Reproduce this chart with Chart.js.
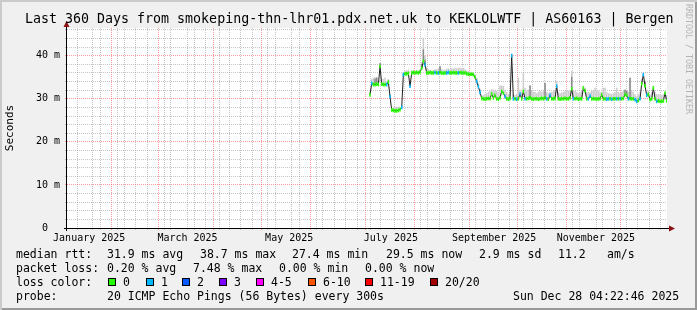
<!DOCTYPE html>
<html>
<head>
<meta charset="utf-8">
<script src="https://cdn.jsdelivr.net/npm/chart.js@4/dist/chart.umd.min.js"></script>
<style>
  html, body { margin: 0; padding: 0; }
  body { width: 697px; height: 310px; overflow: hidden; }
  #graph {
    position: relative; width: 697px; height: 310px; background: #f0f0f0;
    box-shadow: inset 2px 2px 0 #cbcbcb, inset -2px -2px 0 #999999;
    font-family: "DejaVu Sans Mono", monospace; color: #000;
  }
  #graph canvas { position: absolute; left: 0; top: 0; }
  .t { position: absolute; white-space: pre; font-size: 11.5px; line-height: 14px; }
  #title { position: absolute; left: 25px; top: 11px; font-size: 13.3px; line-height: 16px; white-space: pre; }
  #stamp { position: absolute; left: 684px; top: 4px; font-size: 8.3px; color: #b4b4b4; writing-mode: vertical-rl; white-space: pre; }
  .box { position: absolute; width: 6px; height: 6px; border: 1px solid #000; top: 278px; }
</style>
</head>
<body>
<div id="graph">
  <canvas id="chart" width="697" height="310"></canvas>
  <div id="title">Last 360 Days from smokeping-thn-lhr01.pdx.net.uk to KEKLOLWTF | AS60163 | Bergen</div>
  <div id="stamp">RRDTOOL / TOBI OETIKER</div>
  <div id="legend"></div>
</div>
<script>
// days counted from 1 Jan 2025 00:00
const startDay = 1.18;
const endDay = 361.18;
const firstDay = 183;

// median rtt per day, ms
const median = [
  30.9, 33.6, 33.3, 33.3, 33.4, 33.3, 37.5, 33.4, 33.3, 33.3, 33.3, 33.9,
  30.5, 27.4, 27.3, 27.2, 27.2, 27.3, 27.5, 28.0,
  35.6, 35.8, 35.8, 35.9, 32.9, 36.0, 36.1, 36.0, 36.1, 36.0, 36.2, 37.1, 38.7, 37.9, 36.0,
  36.0, 36.1, 36.0, 36.0, 36.1, 36.0, 36.0, 36.1, 36.0, 35.9, 36.0, 36.0, 36.1, 36.0, 36.0, 36.1, 36.0, 36.0, 36.0, 36.1, 36.0, 36.0, 36.0,
  35.8, 35.7, 35.7, 35.7, 35.6, 35.0, 34.0, 32.8, 31.5, 30.1,
  30.0, 29.9, 30.0, 30.1, 30.0, 31.1, 30.2, 30.8, 30.0, 29.9, 30.2, 31.7, 31.3, 30.5, 30.0, 29.9, 30.1,
  40.0, 30.0, 30.0, 29.9, 30.0, 31.1, 30.0, 31.7, 30.0, 30.0, 30.1, 30.2, 30.0, 29.9, 30.0, 30.0, 29.9, 30.0, 30.1, 30.0,
  30.2, 30.0, 29.9, 30.8, 30.0, 30.0, 30.1, 32.9, 30.0, 29.9, 30.0, 30.0, 30.1, 30.0, 30.0, 30.2, 32.3, 30.0, 30.0, 30.1, 29.9, 30.0, 30.0,
  32.5, 31.8, 30.0, 30.0, 30.6, 30.0, 30.0, 30.0, 29.9, 30.0, 30.0, 30.9, 30.0, 30.0, 29.9, 30.0, 30.0, 29.9, 30.0, 30.0, 30.0, 30.0, 30.0, 30.0, 30.1,
  31.0, 30.8, 30.0, 30.0, 30.0, 30.0, 29.8, 29.4, 29.6, 30.0, 33.5, 35.6, 33.0, 30.8, 31.0, 29.8, 30.0, 32.5, 30.0, 29.4, 29.5, 29.4, 29.4, 29.5, 31.3, 29.5
];

// loss bucket per day (index into lossColors)
const loss = [
  0, 1, 0, 0, 0, 0, 0, 0, 0, 0, 1, 0,
  1, 0, 0, 0, 0, 0, 0, 1,
  1, 0, 0, 0, 1, 0, 0, 0, 0, 0, 0, 0, 0, 1, 0,
  0, 0, 0, 0, 1, 0, 1, 0, 0, 0, 0, 1, 1, 0, 0, 0, 0, 0, 1, 0, 0, 0, 0,
  0, 0, 0, 0, 0, 0, 1, 1, 1, 0,
  0, 0, 0, 0, 0, 0, 0, 0, 0, 0, 0, 0, 0, 1, 0, 0, 0,
  1, 1, 0, 1, 0, 1, 0, 0, 1, 0, 0, 0, 0, 0, 0, 0, 0, 0, 0, 0,
  0, 1, 0, 1, 0, 0, 0, 1, 0, 0, 0, 0, 0, 0, 0, 0, 0, 1, 0, 0, 0, 0, 0,
  0, 0, 0, 1, 1, 0, 0, 0, 0, 0, 0, 0, 0, 0, 1, 1, 0, 1, 0, 0, 1, 0, 1, 0, 0,
  0, 0, 1, 0, 0, 0, 1, 1, 0, 1, 0, 1, 0, 1, 0, 0, 0, 0, 0, 1, 0, 0, 0, 0, 0, 0
];

// top of the light smoke per day, ms
const smokeTop = [
  31.5, 34.5, 34.8, 35.0, 35.0, 34.2, 38.0, 34.5, 34.5, 34.8, 34.0, 34.5,
  31.0, 27.8, 27.8, 28.0, 28.0, 28.0, 28.0, 28.4,
  36.0, 36.5, 36.5, 36.6, 34.0, 36.5, 36.6, 36.5, 36.6, 36.5, 36.8, 38.5, 44.1, 40.0, 37.2,
  36.8, 36.6, 36.5, 36.6, 36.8, 36.8, 37.0, 37.6, 36.8, 36.6, 36.7, 36.9, 37.0, 36.8, 37.0, 36.9, 37.1, 37.0, 37.1, 37.2, 37.0, 37.1, 36.8,
  36.5, 36.4, 36.2, 36.2, 36.0, 35.6, 34.8, 33.5, 32.2, 30.6,
  30.8, 31.0, 31.2, 31.5, 31.7, 32.2, 32.0, 32.0, 31.8, 31.5, 33.0, 33.0, 32.9, 32.0, 31.5, 31.0, 31.5,
  40.5, 31.0, 30.8, 31.0, 34.8, 32.0, 31.5, 36.0, 32.5, 31.8, 32.0, 33.0, 31.8, 31.5, 31.5, 31.2, 31.5, 31.8, 31.5, 32.0,
  33.6, 31.5, 31.2, 31.5, 31.5, 31.7, 32.0, 34.0, 31.5, 31.2, 31.4, 31.5, 31.8, 32.0, 31.8, 32.0, 36.4, 32.0, 31.8, 31.5, 31.2, 31.5, 31.8,
  33.0, 32.5, 31.5, 31.5, 31.5, 31.8, 31.8, 32.5, 32.0, 31.8, 31.5, 31.5, 32.5, 32.5, 31.5, 31.2, 31.2, 31.0, 31.2, 31.5, 32.5, 31.5, 31.2, 31.5, 31.8,
  32.1, 32.0, 31.5, 34.8, 32.0, 31.5, 31.0, 30.5, 31.0, 31.5, 34.5, 36.0, 34.0, 31.5, 31.8, 31.0, 31.5, 33.0, 31.5, 31.0, 31.0, 31.0, 30.8, 31.0, 31.6, 30.8
];

// darker smoke where pings bunched up
const darkDays = [186, 187, 189, 214, 215, 216, 225, 279, 288, 304, 336, 337, 339, 346, 348];
const darkTop = [34.6, 34.8, 38.2, 38.0, 41.4, 39.0, 37.5, 33.0, 33.6, 35.0, 32.0, 31.8, 34.8, 34.0, 33.8];

const lossColors = ["#26ff00", "#00b8ff", "#0059ff", "#7e00ff", "#ff00ff", "#ff5500", "#ff0000", "#a10000"];
const lossLabels = ["0", "1", "2", "3", "4-5", "6-10", "11-19", "20/20"];

const monthStarts = [0, 31, 59, 90, 120, 151, 181, 212, 243, 273, 304, 334];
const monthLabels = ["January 2025", "March 2025", "May 2025", "July 2025", "September 2025", "November 2025"];
const monthLabelDays = [14.5, 73.5, 134.5, 195.5, 257.5, 318.5];

const yMax = 46.43;
const yTickValues = [0, 10, 20, 30, 40];
const yTickLabels = ["0  ", "10 m", "20 m", "30 m", "40 m"];

const legendRows = [
  [[16, "median rtt:"], [107, "31.9 ms avg"], [200, "38.7 ms max"], [292, "27.4 ms min"], [386, "29.5 ms now"], [479, "2.9 ms sd"], [558, "11.2"], [607, "am/s"]],
  [[16, "packet loss:"], [107, "0.20 % avg"], [193, "7.48 % max"], [279, "0.00 % min"], [365, "0.00 % now"]],
  [[16, "loss color:"]],
  [[16, "probe:"], [107, "20 ICMP Echo Pings (56 Bytes) every 300s"], [513, "Sun Dec 28 04:22:46 2025"]]
];
const lossBoxX = [108, 146, 182, 219, 256, 308, 365, 430];

const MONO = "'DejaVu Sans Mono', monospace";
const bandHalf = 0.35;
const MINOR = "rgba(150,150,150,0.55)";
const MAJOR = "rgba(255,60,60,0.5)";

function buildLegend() {
  const legend = document.getElementById("legend");
  const tops = [247, 261, 275, 289];
  legendRows.forEach((row, r) => {
    row.forEach(([x, text]) => {
      const el = document.createElement("div");
      el.className = "t";
      el.style.left = x + "px";
      el.style.top = tops[r] + "px";
      el.textContent = text;
      legend.appendChild(el);
    });
  });
  lossLabels.forEach((label, i) => {
    const box = document.createElement("div");
    box.className = "box";
    box.style.left = lossBoxX[i] + "px";
    box.style.background = lossColors[i];
    legend.appendChild(box);
    const el = document.createElement("div");
    el.className = "t";
    el.style.left = (lossBoxX[i] + 15) + "px";
    el.style.top = tops[2] + "px";
    el.textContent = label;
    legend.appendChild(el);
  });
}

const days = median.map((v, i) => firstDay + i);

const frame = {
  id: "frame",
  beforeDraw(chart) {
    const { ctx, chartArea: a } = chart;
    ctx.save();
    ctx.fillStyle = "#ffffff";
    ctx.fillRect(a.left, a.top, a.right - a.left, a.bottom - a.top);
    ctx.restore();
  },
  afterDraw(chart) {
    const { ctx, chartArea: a } = chart;
    ctx.save();
    ctx.strokeStyle = "#000";
    ctx.lineWidth = 1;
    ctx.beginPath();
    ctx.moveTo(a.left - 3, a.bottom + 0.5);
    ctx.lineTo(a.right + 4, a.bottom + 0.5);
    ctx.moveTo(a.left - 0.5, a.bottom + 3);
    ctx.lineTo(a.left - 0.5, a.top - 4);
    ctx.stroke();
    ctx.fillStyle = "#8b1010";
    ctx.beginPath();
    ctx.moveTo(a.left - 0.5, a.top - 7);
    ctx.lineTo(a.left - 3.5, a.top - 1);
    ctx.lineTo(a.left + 2.5, a.top - 1);
    ctx.closePath();
    ctx.fill();
    ctx.beginPath();
    ctx.moveTo(a.right + 8, a.bottom + 0.5);
    ctx.lineTo(a.right + 2, a.bottom - 2.5);
    ctx.lineTo(a.right + 2, a.bottom + 3.5);
    ctx.closePath();
    ctx.fill();
    ctx.restore();
  }
};

function xTicks() {
  const ticks = [];
  monthStarts.forEach(d => ticks.push({ value: d, kind: "major" }));
  for (let d = 4; d <= endDay; d += 7) ticks.push({ value: d, kind: "minor" });
  monthLabelDays.forEach((d, i) => ticks.push({ value: d, kind: "label", label: monthLabels[i] }));
  return ticks.filter(t => t.value > startDay && t.value < endDay).sort((a, b) => a.value - b.value);
}
const xTickList = xTicks();

function xGridColor(ctx) {
  const t = xTickList[ctx.index];
  if (!t || t.kind === "label") return "rgba(0,0,0,0)";
  return t.kind === "major" ? MAJOR : MINOR;
}

function yGridColor(ctx) {
  const v = ctx.tick ? ctx.tick.value : 0;
  return v % 10 === 0 ? MAJOR : MINOR;
}

buildLegend();

new Chart(document.getElementById("chart"), {
  type: "bar",
  data: {
    datasets: [
      {
        type: "bar",
        data: days.map((d, i) => ({ x: d, y: [median[i] - bandHalf, median[i] + bandHalf] })),
        backgroundColor: loss.map(l => lossColors[l]),
        borderWidth: 0,
        grouped: false,
        barPercentage: 1,
        categoryPercentage: 1,
        order: 0
      },
      {
        type: "line",
        data: days.map((d, i) => ({ x: d, y: median[i] })),
        borderColor: "#202020",
        borderWidth: 1,
        pointRadius: 0,
        tension: 0,
        order: 1
      },
      {
        type: "bar",
        data: darkDays.map((d, i) => ({ x: d, y: [median[d - firstDay], darkTop[i]] })),
        backgroundColor: "#8a8a8a",
        borderWidth: 0,
        grouped: false,
        barPercentage: 1,
        categoryPercentage: 1,
        order: 2
      },
      {
        type: "bar",
        data: days.map((d, i) => ({ x: d, y: [median[i], smokeTop[i]] })),
        backgroundColor: "#cdcdcd",
        borderWidth: 0,
        grouped: false,
        barPercentage: 1,
        categoryPercentage: 1,
        order: 3
      }
    ]
  },
  options: {
    responsive: false,
    animation: false,
    devicePixelRatio: 1,
    layout: { padding: { left: 0, top: 28, right: 30, bottom: 62 } },
    plugins: { legend: { display: false }, tooltip: { enabled: false }, title: { display: false } },
    scales: {
      x: {
        type: "linear",
        min: startDay,
        max: endDay,
        offset: false,
        afterBuildTicks: scale => { scale.ticks = xTickList.map(t => ({ value: t.value })); },
        afterFit: scale => { scale.height = 20; },
        ticks: {
          autoSkip: false,
          maxRotation: 0,
          minRotation: 0,
          padding: 2,
          color: "#000",
          font: { family: MONO, size: 10 },
          callback: (value, index) => xTickList[index].label || ""
        },
        grid: { color: xGridColor, tickColor: xGridColor, lineWidth: 1, drawTicks: true, tickLength: 2 },
        border: { display: false, dash: [1, 1] }
      },
      y: {
        min: 0,
        max: yMax,
        afterBuildTicks: scale => {
          const t = [];
          for (let v = 0; v <= 46; v += 2) t.push({ value: v });
          scale.ticks = t;
        },
        afterFit: scale => { scale.width = 67; },
        ticks: {
          autoSkip: false,
          padding: 5,
          color: "#000",
          font: { family: MONO, size: 10 },
          callback: value => {
            const i = yTickValues.indexOf(value);
            return i >= 0 ? yTickLabels[i] : "";
          }
        },
        grid: { color: yGridColor, tickColor: yGridColor, lineWidth: 1, drawTicks: true, tickLength: 2 },
        border: { display: false, dash: [1, 1] },
        title: { display: true, text: "Seconds", color: "#000", font: { family: MONO, size: 11 }, padding: { top: 4, bottom: 0 } }
      }
    }
  },
  plugins: [frame]
});
</script>
</body>
</html>
